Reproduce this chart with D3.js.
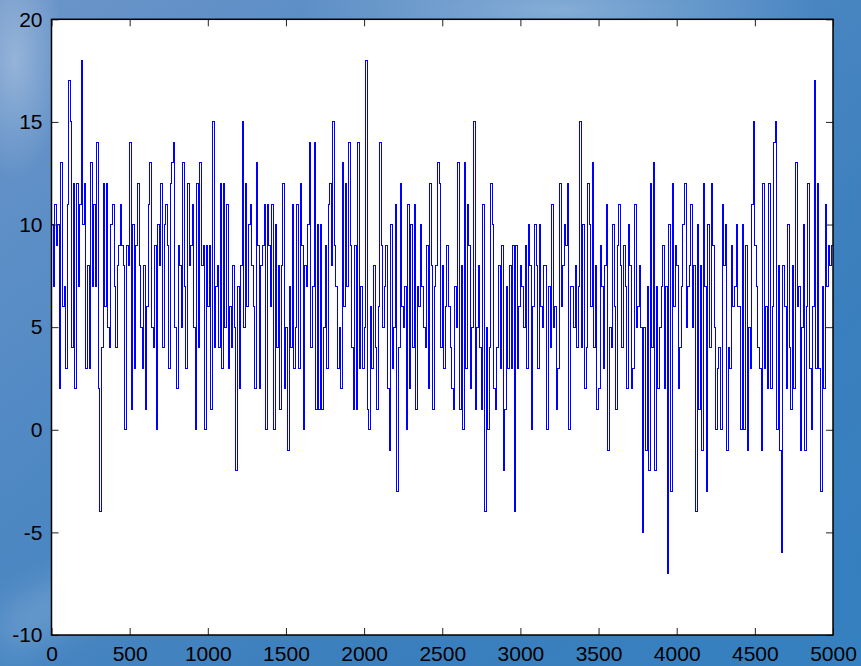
<!DOCTYPE html>
<html>
<head>
<meta charset="utf-8">
<script src="https://cdn.jsdelivr.net/npm/d3@7"></script>
<style>
html, body { margin: 0; padding: 0; overflow: hidden; }
svg { display: block; }
</style>
</head>
<body>
<script>
const width = 861, height = 666;
const plot = {left: 51.5, right: 833, top: 19.3, bottom: 635};

// sample spacing of the stairs signal (one value every 10 samples)
const stepSize = 10;
const xDomain = [0, 5000];
const yDomain = [-10, 20];
const xTicks = [0, 500, 1000, 1500, 2000, 2500, 3000, 3500, 4000, 4500, 5000];
const yTicks = [-10, -5, 0, 5, 10, 15, 20];

// values, chunk by chunk (about 630 samples each)
const part1 = [10,7,11,9,10,2,13,6,7,3,11,17,15,4,12,2,12,7,11,18,10,12,3,8,3,13,7,11,7,14,2,-4,4,12,6,12,5,4,10,11,7,4,8,9,11,9,8,0,9,8,14,1,10,3,9,12,8,5,3,8,1,6,11];
const part2 = [13,5,4,9,0,10,8,12,4,10,11,9,3,12,13,14,5,2,9,8,5,13,7,3,12,8,9,11,5,0,12,4,13,8,9,0,9,6,9,1,15,4,7,8,4,12,3,12,5,11,3,6,4,8,5,-2,7,2,8,15,5,12,6,10];
const part3 = [11,8,6,2,13,9,2,8,9,11,0,11,9,6,11,0,10,4,8,1,8,12,2,5,-1,7,4,11,3,5,11,3,12,9,0,8,7,10,14,4,7,14,1,10,1,10,1,5,9,3,11,12,8,15,9,7,3,5,2,13,6,12,7];
const part4 = [14,9,4,1,9,1,14,3,7,3,5,18,1,0,6,3,8,4,1,6,14,9,5,7,9,2,-1,10,3,5,11,-3,4,12,6,5,7,0,11,2,10,4,11,1,7,6,10,7,5,4,9,2,12,8,1,7,8,13,12,4,8,3,6];
const part5 = [9,6,4,2,1,7,5,13,1,8,0,13,3,11,9,2,5,15,1,5,8,4,1,11,-4,5,0,4,12,10,2,1,4,8,3,9,-2,1,7,3,8,3,9,-4,9,3,6,8,7,5,9,3,10,8,0,6,10,8,3,10,6,5,8];
const part6 = [8,0,7,4,11,5,6,1,3,12,6,8,10,9,12,0,7,7,5,8,4,7,15,4,10,2,4,12,10,6,13,4,8,1,2,9,7,3,8,11,-1,5,4,10,6,1,9,11,8,4,9,7,2,10,8,2,3,11,5,6,8,5,-5];
const part7 = [5,-1,7,-2,12,4,13,-2,7,2,5,7,9,2,7,-7,10,-3,12,6,9,8,2,4,7,10,12,5,7,8,11,5,8,-4,10,1,8,-1,12,7,-3,10,4,12,9,5,0,3,4,0,11,8,10,-1,4,3,9,6,7,10,6,6,0];
const part8 = [10,0,9,-1,5,3,11,15,9,7,4,3,-1,12,3,6,2,12,2,6,14,15,0,8,-1,-6,8,6,2,10,4,1,8,2,13,6,7,-1,5,10,-1,6,12,3,0,6,17,3,12,3,-3,7,2,11,7,9,8,9];

const signal = [].concat(part1, part2, part3, part4, part5, part6, part7, part8);

const svg = d3.select("body")
    .append("svg")
    .attr("width", width)
    .attr("height", height);

// wallpaper-like blue background
const defs = svg.append("defs");
const bg = defs.append("linearGradient")
    .attr("id", "bg")
    .attr("x1", 0).attr("y1", 0).attr("x2", 1).attr("y2", 1);
bg.append("stop").attr("offset", 0).attr("stop-color", "#6c95c9");
bg.append("stop").attr("offset", 0.35).attr("stop-color", "#5089c4");
bg.append("stop").attr("offset", 0.7).attr("stop-color", "#3b7fbd");
bg.append("stop").attr("offset", 1).attr("stop-color", "#3580c0");

const glow = defs.append("radialGradient").attr("id", "glow");
glow.append("stop").attr("offset", 0).attr("stop-color", "#ffffff").attr("stop-opacity", 0.3);
glow.append("stop").attr("offset", 1).attr("stop-color", "#ffffff").attr("stop-opacity", 0);

defs.append("filter").attr("id", "soft")
    .append("feGaussianBlur").attr("stdDeviation", 18);

svg.append("rect")
    .attr("width", width)
    .attr("height", height)
    .attr("fill", "url(#bg)");

svg.append("ellipse")
    .attr("cx", 560).attr("cy", 10).attr("rx", 260).attr("ry", 60)
    .attr("fill", "url(#glow)");
svg.append("ellipse")
    .attr("cx", 15).attr("cy", 60).attr("rx", 50).attr("ry", 120)
    .attr("fill", "url(#glow)");
svg.append("path")
    .attr("d", "M0,610 L180,520 L300,470 L300,500 L150,580 L0,660 Z")
    .attr("fill", "#ffffff")
    .attr("opacity", 0.18)
    .attr("filter", "url(#soft)");

const x = d3.scaleLinear().domain(xDomain).range([plot.left, plot.right]);
const y = d3.scaleLinear().domain(yDomain).range([plot.bottom, plot.top]);

svg.append("rect")
    .attr("x", plot.left)
    .attr("y", plot.top)
    .attr("width", plot.right - plot.left)
    .attr("height", plot.bottom - plot.top)
    .attr("fill", "#ffffff");

// the stairs line, held until the right edge
const points = signal.map((v, i) => [i * stepSize, v]);
points.push([xDomain[1], signal[signal.length - 1]]);

const line = d3.line()
    .x(d => x(d[0]))
    .y(d => y(d[1]))
    .curve(d3.curveStepAfter);

svg.append("path")
    .datum(points)
    .attr("fill", "none")
    .attr("stroke", "#0000ff")
    .attr("stroke-width", 1)
    .attr("shape-rendering", "crispEdges")
    .attr("d", line);

const fmt = d => String(d);
const tickLen = 7;

const gBottom = svg.append("g")
    .attr("transform", `translate(0,${plot.bottom})`)
    .call(d3.axisBottom(x).tickValues(xTicks).tickFormat(fmt)
        .tickSizeInner(-tickLen).tickSizeOuter(0).tickPadding(11));
const gTop = svg.append("g")
    .attr("transform", `translate(0,${plot.top})`)
    .call(d3.axisTop(x).tickValues(xTicks).tickFormat("")
        .tickSizeInner(-tickLen).tickSizeOuter(0));
const gLeft = svg.append("g")
    .attr("transform", `translate(${plot.left},0)`)
    .call(d3.axisLeft(y).tickValues(yTicks).tickFormat(fmt)
        .tickSizeInner(-tickLen).tickSizeOuter(0).tickPadding(9));
const gRight = svg.append("g")
    .attr("transform", `translate(${plot.right},0)`)
    .call(d3.axisRight(y).tickValues(yTicks).tickFormat("")
        .tickSizeInner(-tickLen).tickSizeOuter(0));

[gBottom, gTop, gLeft, gRight].forEach(g => {
    g.select(".domain").remove();
    g.selectAll(".tick line").attr("stroke", "#222").attr("stroke-width", 1);
    g.selectAll(".tick text")
        .attr("fill", "#000")
        .style("font-family", "'Liberation Sans', Arial, Helvetica, sans-serif")
        .style("font-size", "21px");
});

// axes box
svg.append("rect")
    .attr("x", plot.left)
    .attr("y", plot.top)
    .attr("width", plot.right - plot.left)
    .attr("height", plot.bottom - plot.top)
    .attr("fill", "none")
    .attr("stroke", "#000")
    .attr("stroke-width", 1.5);
</script>
</body>
</html>
